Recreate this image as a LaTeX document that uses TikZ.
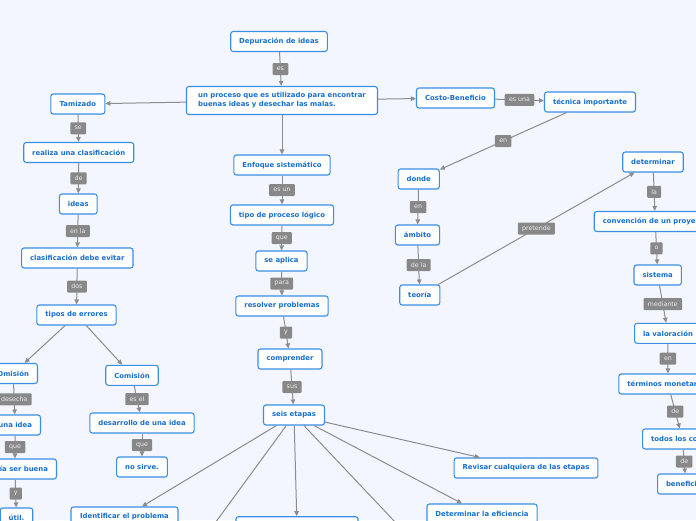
\documentclass[tikz,border=0pt]{standalone}
\usepackage{fontspec}
\setmainfont{DejaVu Sans}
\usetikzlibrary{arrows.meta}
\definecolor{bg}{RGB}{243,246,254}
\definecolor{boxc}{RGB}{58,142,230}
\definecolor{txtc}{RGB}{22,110,205}
\definecolor{linec}{RGB}{140,140,140}
\definecolor{lblc}{RGB}{136,136,136}
\definecolor{lbltxt}{RGB}{236,236,236}
\newcommand\nfont{\fontsize{6.9}{9}\selectfont\bfseries}
\newcommand\lfont{\fontsize{6.3}{7}\selectfont}
\begin{document}
\begin{tikzpicture}[x=1pt,y=-1pt,
  box/.style={draw=boxc, fill=white, rounded corners=2.5pt, line width=1.1pt,
    text=txtc, font=\nfont, inner xsep=8.5pt, inner ysep=0pt, minimum height=20pt},
  lbl/.style={fill=lblc, text=lbltxt, font=\lfont, rounded corners=1pt,
    inner xsep=4.3pt, inner ysep=0pt, minimum height=12pt},
  conn/.style={draw=linec, line width=1pt, -{Triangle[length=5pt,width=4.5pt]}},
]
\useasboundingbox (0,0) rectangle (696,520);
\fill[bg] (0,0) rectangle (696,520);
\clip (0,0) rectangle (696,520);

% top / center
\node[box, minimum width=96pt] (dep) at (279,41.5) {Depuración de ideas};
\node[box, align=left, minimum height=28pt, minimum width=191pt] (proc) at (282,100.5)
  {un proceso que es utilizado para encontrar\\buenas ideas y desechar las malas.};

% left column
\node[box, minimum width=54pt] (tam) at (77.8,104) {Tamizado};
\node[box, minimum width=110pt] (real) at (78.7,152.5) {realiza una clasificación};
\node[box, minimum width=37pt] (ideas) at (78.3,204) {ideas};
\node[box, minimum width=111pt] (clas) at (77.3,258) {clasificación debe evitar};
\node[box, minimum width=78pt] (tipos) at (76.5,315) {tipos de errores};
\node[box, anchor=east] (omi) at (38,373.5) {Omisión};
\node[box, anchor=east] (una) at (41,425) {una idea};
\node[box, anchor=east] (pod) at (57,469) {podría ser buena};
\node[box, minimum width=31pt] (util) at (16.5,518) {útil.};
\node[box, minimum width=52pt] (com) at (132,375.3) {Comisión};
\node[box, minimum width=104pt] (des) at (142,423) {desarrollo de una idea};
\node[box, minimum width=50pt] (nos) at (142,467) {no sirve.};

% middle column
\node[box, minimum width=96pt] (enf) at (282,165) {Enfoque sistemático};
\node[box, minimum width=102pt] (tipo) at (282,215) {tipo de proceso lógico};
\node[box, minimum width=51pt] (apl) at (281.5,261) {se aplica};
\node[box, minimum width=92pt] (res) at (282,306) {resolver problemas};
\node[box, minimum width=64pt] (compr) at (290,359) {comprender};
\node[box, minimum width=60pt] (seis) at (294,415) {seis etapas};
\node[box, minimum width=107pt] (ident) at (124.5,517) {Identificar el problema};
\node[box, minimum width=122pt] (bm) at (297,526.7) {};
\node[box, minimum width=110pt] (efic) at (482,514) {Determinar la eficiencia};
\node[box, minimum width=143pt] (rev) at (526,468) {Revisar cualquiera de las etapas};
\coordinate (offl) at (188,560);
\coordinate (offr) at (431,560);

% right part
\node[box, minimum width=78pt] (costo) at (455.5,98) {Costo-Beneficio};
\node[box, minimum width=90pt] (tec) at (590,102) {técnica importante};
\node[box, minimum width=41pt] (donde) at (418.7,179) {donde};
\node[box, minimum width=44pt] (amb) at (417.5,235) {ámbito};
\node[box, minimum width=39pt] (teo) at (419.8,295) {teoría};
\node[box, minimum width=60pt] (det) at (653,162) {determinar};
\node[box, anchor=west] (conv) at (593.7,221.5) {convención de un proyecto};
\node[box, minimum width=47pt] (sis) at (657.7,275) {sistema};
\node[box, anchor=west] (val) at (634,333.3) {la valoración};
\node[box, anchor=west] (term) at (618.3,384) {términos monetarios};
\node[box, anchor=west] (todos) at (642,439) {todos los costos};
\node[box, anchor=west] (ben) at (657,484) {beneficios};

% connectors
\draw[conn] (dep) -- node[lbl]{es} (proc);
\draw[conn] (proc) -- (tam);
\draw[conn] (proc) -- (costo);
\draw[conn] (proc) -- (enf);
\draw[conn] (costo) -- node[lbl]{es una} (tec);
\draw[conn] (tec) -- node[lbl]{en} (donde);
\draw[conn] (donde) -- node[lbl]{en} (amb);
\draw[conn] (amb) -- node[lbl]{de la} (teo);
\draw[conn] (teo) -- node[lbl]{pretende} (det);
\draw[conn] (det) -- node[lbl]{la} (conv);
\draw[conn] (conv) -- node[lbl]{o} (sis);
\draw[conn] (sis) -- node[lbl]{mediante} (val);
\draw[conn] (val) -- node[lbl]{en} (term);
\draw[conn] (term) -- node[lbl]{de} (todos);
\draw[conn] (todos) -- node[lbl]{de} (ben);

\draw[conn] (tam) -- node[lbl]{se} (real);
\draw[conn] (real) -- node[lbl]{de} (ideas);
\draw[conn] (ideas) -- node[lbl]{en la} (clas);
\draw[conn] (clas) -- node[lbl]{dos} (tipos);
\draw[conn] (tipos) -- (omi);
\draw[conn] (tipos) -- (com);
\draw[conn] (omi) -- node[lbl]{desecha} (una);
\draw[conn] (una) -- node[lbl]{que} (pod);
\draw[conn] (pod) -- node[lbl]{y} (util);
\draw[conn] (com) -- node[lbl]{es el} (des);
\draw[conn] (des) -- node[lbl]{que} (nos);

\draw[conn] (enf) -- node[lbl]{es un} (tipo);
\draw[conn] (tipo) -- node[lbl]{que} (apl);
\draw[conn] (apl) -- node[lbl]{para} (res);
\draw[conn] (res) -- node[lbl]{y} (compr);
\draw[conn] (compr) -- node[lbl]{sus} (seis);

\draw[conn] (seis) -- (ident);
\draw[conn] (seis) -- (offl);
\draw[conn] (seis) -- (bm);
\draw[conn] (seis) -- (offr);
\draw[conn] (seis) -- (efic);
\draw[conn] (seis) -- (rev);
\end{tikzpicture}
\end{document}
